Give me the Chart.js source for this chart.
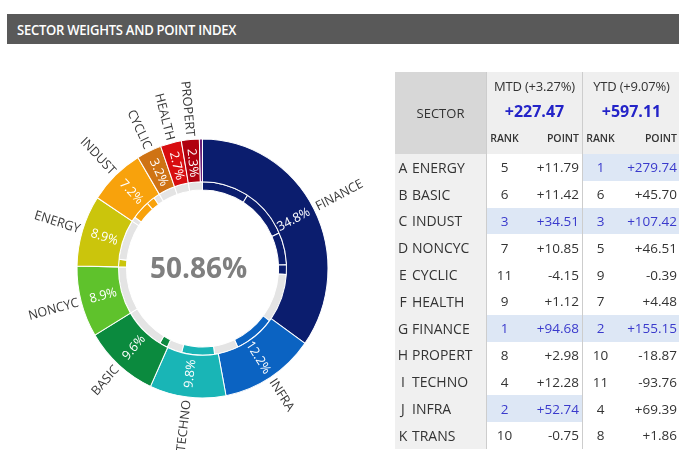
<!DOCTYPE html>
<html><head><meta charset="utf-8">
<script src="https://cdn.jsdelivr.net/npm/chart.js@4"></script>
<style>
html,body{margin:0;padding:0;background:#fff;overflow:hidden;width:679px;height:450px;font-family:"Open Sans",sans-serif;}
#title{position:absolute;left:7px;top:14px;width:672px;height:30px;background:#595959;color:#fff;box-sizing:border-box;padding-left:10px;}
#title span{display:inline-block;font-weight:600;font-size:14.5px;line-height:31px;letter-spacing:-0.3px;transform:scaleX(0.9);transform-origin:0 50%;white-space:nowrap;}
#c{position:absolute;left:0;top:0;}
#tbl{position:absolute;left:395px;top:72px;display:grid;grid-template-columns:91px 36px 60px 36px 62px;grid-template-rows:28px 22px 32px repeat(11,26.8px);font-size:13.5px;color:#333;}
#tbl div{box-sizing:border-box;display:flex;align-items:center;white-space:nowrap;}
.hd{background:#efefef;}
.sec{background:#d7d7d7;justify-content:center;font-size:13px;}
.ttl{justify-content:center;font-size:13px;letter-spacing:-0.2px;}
.tot{justify-content:center;font-size:16px;font-weight:700;color:#2424c8;}
.sub{font-size:10.5px;font-weight:600;}
.rh{background:#f0f0f0;padding-left:1px;font-size:14px;}
.rh span{display:inline-block;width:14px;text-align:center;margin-right:2px;}
.ctr{justify-content:center;}
.rt{justify-content:flex-end;padding-right:3px;}
.dl{border-left:1px solid #cdcdcd;}
.hl{background:#dde7f5;color:#3a3acc;}
</style></head>
<body>
<div id="title"><span>SECTOR WEIGHTS AND POINT INDEX</span></div>
<canvas id="c" width="679" height="450"></canvas>
<div id="tbl"></div>
<script>
// ---- doughnut data ----
const weightLabels = ['FINANCE','INFRA','TECHNO','BASIC','NONCYC','ENERGY','INDUST','CYCLIC','HEALTH','PROPERT','TRANS'];
const weightValues = [34.8,12.2,9.8,9.6,8.9,8.9,7.2,3.2,2.7,2.3,0.4];
const weightColors = ['#0b1d6e','#0b63c2','#19b5b6','#0b8a3e','#5fc22c','#cbc50c','#f8a20c','#cf7314','#d80d10','#b0000f','#6a1f78'];
const innerValues = [9.0,9.3,6.0,1.8,9.2,7.8,4.6,6.3,2.9,1.6,7.9,8.9,1.4,7.5,0.9,3.5,1.6,1.2,3.2,2.7,2.7];
const innerColors = ['#0b1d6e','#0b1d6e','#0b1d6e','#0b1d6e','#e4e4e4','#0b63c2','#e4e4e4','#19b5b6','#e4e4e4','#0b8a3e','#e4e4e4','#e4e4e4','#cbc50c','#e4e4e4','#e4e4e4','#f8a20c','#f8a20c','#e4e4e4','#e4e4e4','#e4e4e4','#e4e4e4'];
const centerText = '50.86%';

// ---- table data ----
const sectorCodes = ['A','B','C','D','E','F','G','H','I','J','K'];
const sectorNames = ['ENERGY','BASIC','INDUST','NONCYC','CYCLIC','HEALTH','FINANCE','PROPERT','TECHNO','INFRA','TRANS'];
const mtdRank = [5,6,3,7,11,9,1,8,4,2,10];
const mtdPoint = ['+11.79','+11.42','+34.51','+10.85','-4.15','+1.12','+94.68','+2.98','+12.28','+52.74','-0.75'];
const ytdRank = [1,6,3,5,9,7,2,10,11,4,8];
const ytdPoint = ['+279.74','+45.70','+107.42','+46.51','-0.39','+4.48','+155.15','-18.87','-93.76','+69.39','+1.86'];
const mtdHeader = 'MTD (+3.27%)', mtdTotal = '+227.47';
const ytdHeader = 'YTD (+9.07%)', ytdTotal = '+597.11';

// build table
const tbl = document.getElementById('tbl');
function cell(cls, html, col, row){
  const d = document.createElement('div');
  d.className = cls; d.innerHTML = html;
  d.style.gridColumn = col; d.style.gridRow = row;
  tbl.appendChild(d);
}
cell('sec','SECTOR','1','1 / 4');
cell('hd ttl dl',mtdHeader,'2 / 4','1');
cell('hd ttl dl',ytdHeader,'4 / 6','1');
cell('hd tot dl',mtdTotal,'2 / 4','2');
cell('hd tot dl',ytdTotal,'4 / 6','2');
cell('hd sub ctr dl','RANK','2','3');
cell('hd sub rt','POINT','3','3');
cell('hd sub ctr dl','RANK','4','3');
cell('hd sub rt','POINT','5','3');
sectorNames.forEach((n,i)=>{
  const r = String(i+4);
  cell('rh','<span>'+sectorCodes[i]+'</span>'+n,'1',r);
  const mh = mtdRank[i] <= 3 ? ' hl' : '';
  const yh = ytdRank[i] <= 3 ? ' hl' : '';
  cell('ctr dl'+mh, mtdRank[i], '2', r);
  cell('rt'+mh, mtdPoint[i], '3', r);
  cell('ctr dl'+yh, ytdRank[i], '4', r);
  cell('rt'+yh, ytdPoint[i], '5', r);
});

// ---- chart ----
const yStretch = 1.032;
const labelPlugin = {
  id:'lbl',
  beforeDatasetsDraw(chart){
    const ctx = chart.ctx;
    const a = chart.chartArea;
    const cy = (a.top + a.bottom) / 2;
    ctx.save();
    ctx.translate(0, cy);
    ctx.scale(1, yStretch);
    ctx.translate(0, -cy);
  },
  afterDatasetsDraw(chart){
    const ctx = chart.ctx;
    const meta = chart.getDatasetMeta(0);
    let cx=0, cy=0;
    meta.data.forEach((arc,i)=>{
      const p = arc.getProps(['x','y','startAngle','endAngle','outerRadius','innerRadius'], true);
      cx = p.x; cy = p.y;
      const v = weightValues[i];
      if (v < 1) return;
      const a = (p.startAngle+p.endAngle)/2;
      const theta = a + Math.PI/2;
      const flip = theta > Math.PI;
      ctx.save();
      ctx.translate(p.x,p.y);
      ctx.rotate(flip ? a+Math.PI : a);
      ctx.textBaseline = 'middle';
      const rp = (p.outerRadius+p.innerRadius)/2 - 2;
      ctx.fillStyle = '#ffffff';
      ctx.font = '12.5px "Open Sans"';
      ctx.textAlign = 'center';
      ctx.fillText(v.toFixed(1)+'%', flip ? -rp : rp, 0);
      ctx.fillStyle = '#3a3a3a';
      ctx.font = '12.5px "Open Sans"';
      ctx.textAlign = flip ? 'right' : 'left';
      const ro = p.outerRadius + 3;
      ctx.fillText(weightLabels[i], flip ? -ro : ro, 0);
      ctx.restore();
    });
    ctx.fillStyle = '#7f7f7f';
    ctx.font = 'bold 28px "Open Sans"';
    ctx.textAlign = 'center';
    ctx.textBaseline = 'middle';
    ctx.fillText(centerText, cx - 4, cy + 1);
    ctx.restore();
  }
};

new Chart(document.getElementById('c'), {
  type:'doughnut',
  data:{
    labels: weightLabels,
    datasets:[
      {data: weightValues, backgroundColor: weightColors, borderColor:'#ffffff', borderWidth:1, weight:41.5},
      {data: innerValues, backgroundColor: innerColors, borderColor:'#ffffff', borderWidth:1, weight:8}
    ]
  },
  options:{
    responsive:false,
    animation:false,
    radius:125.5,
    cutout:'60.6%',
    layout:{padding:{left:0,right:274,top:87,bottom:0}},
    plugins:{legend:{display:false},tooltip:{enabled:false}},
    events:[]
  },
  plugins:[labelPlugin]
});
</script>
</body></html>
